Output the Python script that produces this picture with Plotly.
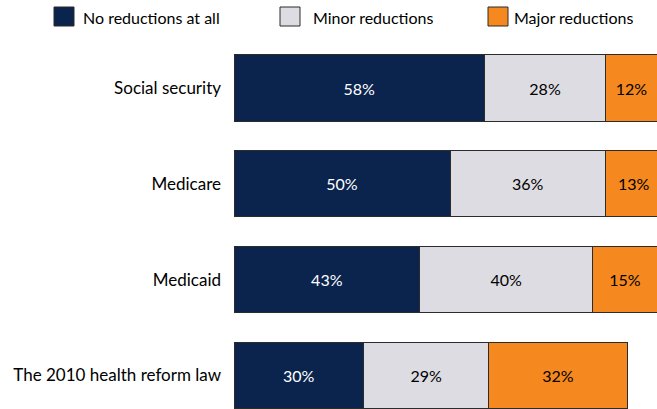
import plotly.graph_objects as go

categories = ['Social security', 'Medicare', 'Medicaid', 'The 2010 health reform law']
series_names = ['No reductions at all', 'Minor reductions', 'Major reductions']
no_reductions = [58, 50, 43, 30]
minor_reductions = [28, 36, 40, 29]
major_reductions = [12, 13, 15, 32]

colors = ['#0b244d', '#dddce2', '#f5891f']
text_colors = ['white', 'black', 'black']
series_values = [no_reductions, minor_reductions, major_reductions]

fig = go.Figure()
for name, vals, col, tcol in zip(series_names, series_values, colors, text_colors):
    fig.add_trace(go.Bar(y=categories, x=vals, name=name, orientation='h',
                         marker=dict(color=col, line=dict(color='#2b2b2b', width=1)),
                         text=[f'{v}%' for v in vals], textposition='inside',
                         insidetextanchor='middle', textangle=0,
                         textfont=dict(color=tcol, size=16)))

# legend drawn by hand so the swatches match the big squares of the original
legend_sq_x = [54, 280, 488]
legend_tx_x = [81, 311, 512]
for name, col, sx, tx in zip(series_names, colors, legend_sq_x, legend_tx_x):
    fig.add_shape(type='rect', xref='paper', yref='paper',
                  x0=(sx - 234) / 423, x1=(sx + 20 - 234) / 423,
                  y0=(409 - 26) / 409, y1=(409 - 7) / 409,
                  fillcolor=col, line=dict(color='#2b2b2b', width=1))
    fig.add_annotation(text=name, xref='paper', yref='paper',
                       x=(tx - 234) / 423, y=(409 - 17) / 409,
                       xanchor='left', yanchor='middle', showarrow=False,
                       font=dict(size=16, color='black'))

fig.update_layout(
    barmode='stack',
    bargap=0.31,
    width=657,
    height=409,
    margin=dict(l=234, r=0, t=0, b=0),
    paper_bgcolor='white',
    plot_bgcolor='white',
    font=dict(family='Lato', size=15, color='black'),
    showlegend=False,
    xaxis=dict(range=[0, 97.9], visible=False),
    yaxis=dict(range=[3.351, -0.919], showgrid=False, showline=False, ticks='',
               ticklabelstandoff=12, tickfont=dict(size=17)),
    uniformtext=dict(mode='show', minsize=15),
)

# page body has a default 8px margin, drop it so the figure fills the window
fig.write_html('out.html', config={'displayModeBar': False},
               post_script="document.body.style.margin='0';")
